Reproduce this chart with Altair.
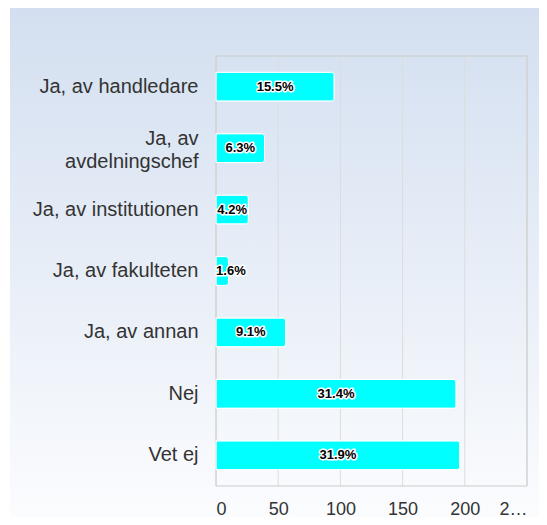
import altair as alt
import pandas as pd

categories = ["Ja, av handledare", "Ja, av avdelningschef", "Ja, av institutionen",
              "Ja, av fakulteten", "Ja, av annan", "Nej", "Vet ej"]
counts = [95, 39, 26, 10, 56, 193, 196]
pct_labels = ["15.5%", "6.3%", "4.2%", "1.6%", "9.1%", "31.4%", "31.9%"]
x_ticks = [0, 50, 100, 150, 200, 250]

W, H = 311, 430
PAD = {"left": 208, "top": 48, "right": 12, "bottom": 31}

df = pd.DataFrame({"cat": categories, "n": counts, "pct": pct_labels})
ticks_df = pd.DataFrame({"t": x_ticks})
one = pd.DataFrame({"a": [0]})

FONT = "Arial, Liberation Sans, sans-serif"

xscale = alt.Scale(domain=[0, 250], nice=False)
yscale = alt.Scale(paddingInner=0.53, paddingOuter=0.265)

bg = alt.Chart(one).mark_rect(
    fill=alt.LinearGradient(
        gradient="linear", x1=0, y1=0, x2=0, y2=1,
        stops=[alt.GradientStop(color="#d3dff0", offset=0),
               alt.GradientStop(color="#fbfcfe", offset=1)],
    )
).encode(
    x=alt.value(-206), x2=alt.value(W + PAD["right"]),
    y=alt.value(-48), y2=alt.value(H + PAD["bottom"]),
)

grid = alt.Chart(ticks_df).mark_rule(color="#dcdcdc", strokeWidth=1).encode(
    x=alt.X("t:Q", scale=xscale),
    y=alt.value(0), y2=alt.value(H),
)

frame_top = alt.Chart(one).mark_rule(color="#cccccc").encode(
    x=alt.value(0), x2=alt.value(W), y=alt.value(0))
frame_bottom = alt.Chart(one).mark_rule(color="#cccccc").encode(
    x=alt.value(0), x2=alt.value(W), y=alt.value(H))
frame_sides = alt.Chart(pd.DataFrame({"t": [x_ticks[0], x_ticks[-1]]})).mark_rule(
    color="#cccccc").encode(
    x=alt.X("t:Q", scale=xscale), y=alt.value(0), y2=alt.value(H))

base = alt.Chart(df)

bars = base.mark_bar(color="#00ffff", stroke="white", strokeWidth=1,
                     cornerRadiusEnd=3).encode(
    y=alt.Y("cat:N", sort=categories, scale=yscale,
            axis=alt.Axis(title=None, domain=False, ticks=False, grid=False,
                          labelFont=FONT, labelFontSize=20, labelColor="#333333",
                          labelPadding=18, labelLimit=220, labelLineHeight=23,
                          labelOffset=alt.condition(
                              "datum.value == 'Ja, av avdelningschef'",
                              alt.value(-9), alt.value(0)),
                          zindex=1,
                          labelExpr="datum.value == 'Ja, av avdelningschef' ? ['Ja, av', 'avdelningschef'] : datum.label")),
    x=alt.X("n:Q", scale=xscale,
            axis=alt.Axis(title=None, domain=False, ticks=False, grid=False,
                          values=x_ticks, labelFont=FONT, labelFontSize=18,
                          labelColor="#333333", labelPadding=14, zindex=1,
                          labelExpr="datum.value == 250 ? '2…' : datum.label")),
)

mid = base.transform_calculate(mid="max(datum.n / 2, 12)")
text_halo = mid.mark_text(font=FONT, fontSize=13, fontWeight="bold",
                          stroke="white", strokeWidth=3, strokeJoin="round",
                          fill="white").encode(
    y=alt.Y("cat:N", sort=categories), x=alt.X("mid:Q"), text="pct:N")
text = mid.mark_text(font=FONT, fontSize=13, fontWeight="bold",
                     color="black").encode(
    y=alt.Y("cat:N", sort=categories), x=alt.X("mid:Q"), text="pct:N")

chart = alt.layer(bg, grid, frame_top, frame_bottom, frame_sides, bars,
                  text_halo, text).properties(
    width=W, height=H,
    autosize=alt.AutoSizeParams(type="none"),
    padding=PAD,
).configure_view(stroke=None).configure(background="white")

chart.save("out.html", embed_options={"renderer": "svg", "actions": False})
